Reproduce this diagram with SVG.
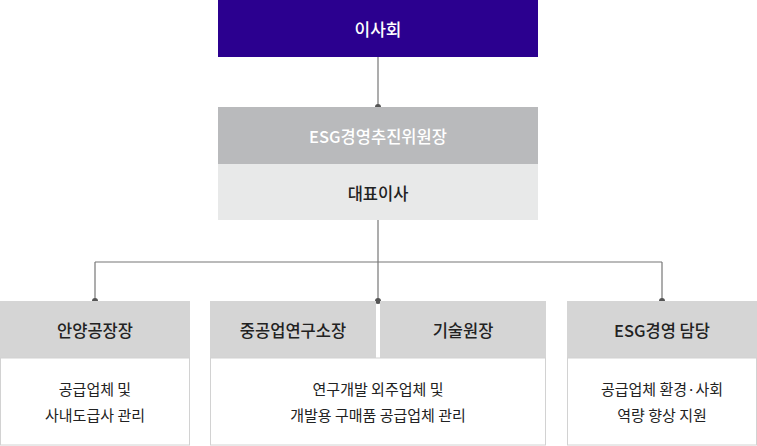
<svg xmlns="http://www.w3.org/2000/svg" width="757" height="446" viewBox="0 0 757 446">
<style>
text{font-family:"Noto Sans CJK KR","Noto Sans",sans-serif;text-anchor:middle;dominant-baseline:central}
.h{font-size:16.5px;font-weight:500;fill:#222}
.b{font-size:15px;font-weight:400;fill:#222}
.hdr{fill:#d5d5d5}
.body{fill:#fff;stroke:#d2d2d2;stroke-width:1}
.ln{fill:none;stroke:#777;stroke-width:1.2}
.dot{fill:#555}
</style>
<rect width="757" height="446" fill="#fff"/>
<g id="connectors">
<path class="ln" d="M378 57V107M378 220V301M95 262H662M95 262V301M662 262V301"/>
<circle class="dot" cx="378" cy="107" r="3"/>
<circle class="dot" cx="95" cy="301" r="3"/>
<circle class="dot" cx="378" cy="301" r="3"/>
<circle class="dot" cx="662" cy="301" r="3"/>
</g>
<g id="board">
<rect x="218" y="0" width="320" height="57" fill="#2b008f"/>
<text x="378" y="28.5" style="font-size:17px;font-weight:500;fill:#fff">이사회</text>
</g>
<g id="esg-committee">
<rect x="218" y="107" width="320" height="57" fill="#b9babc"/>
<text x="378" y="135.5" class="h" style="fill:#fff">ESG경영추진위원장</text>
<rect x="218" y="164" width="320" height="56" fill="#e8e9e9"/>
<text x="378" y="192.5" class="h">대표이사</text>
</g>
<g id="anyang">
<rect class="hdr" x="0" y="301" width="190" height="57"/>
<text x="95" y="330" class="h">안양공장장</text>
<rect class="body" x="0.5" y="358" width="189" height="87"/>
<text x="95" y="388" class="b">공급업체 및</text>
<text x="95" y="414" class="b">사내도급사 관리</text>
</g>
<g id="research">
<rect class="hdr" x="210" y="301" width="166" height="57"/>
<rect class="hdr" x="380" y="301" width="166" height="57"/>
<text x="293" y="330" class="h">중공업연구소장</text>
<text x="463" y="330" class="h">기술원장</text>
<rect class="body" x="210.5" y="358" width="335" height="87"/>
<text x="378" y="388" class="b">연구개발 외주업체 및</text>
<text x="378" y="414" class="b">개발용 구매품 공급업체 관리</text>
</g>
<g id="esg-manager">
<rect class="hdr" x="567" y="301" width="190" height="57"/>
<text x="662" y="330" class="h">ESG경영 담당</text>
<rect class="body" x="567.5" y="358" width="189" height="87"/>
<text x="662" y="388" class="b">공급업체 환경·사회</text>
<text x="662" y="414" class="b">역량 향상 지원</text>
</g>
</svg>
